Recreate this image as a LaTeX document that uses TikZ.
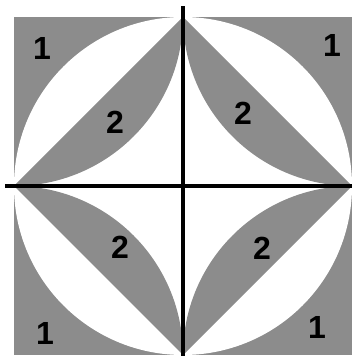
\documentclass[tikz,border=0pt]{standalone}
\usepackage{fontspec}
\setmainfont{Liberation Sans}
\begin{document}
\begin{tikzpicture}[x=1pt,y=1pt,
  shade/.style={fill=black!45},
  lbl/.style={font=\fontsize{32}{34}\selectfont\bfseries, text=black, inner sep=0pt},
  axis/.style={line width=3.2pt, black}]
\useasboundingbox (0,0) rectangle (353,358);
\def\cx{183}\def\cy{172}\def\a{169}
% square and circle
\fill[shade] (\cx-\a,\cy-\a) rectangle (\cx+\a,\cy+\a);
\fill[white] (\cx,\cy) circle (\a);
% lenses
\fill[shade] (\cx-\a,\cy) -- (\cx,\cy+\a) arc[start angle=0,end angle=-90,radius=\a] -- cycle;
\fill[shade] (\cx+\a,\cy) -- (\cx,\cy+\a) arc[start angle=180,end angle=270,radius=\a] -- cycle;
\fill[shade] (\cx-\a,\cy) -- (\cx,\cy-\a) arc[start angle=0,end angle=90,radius=\a] -- cycle;
\fill[shade] (\cx+\a,\cy) -- (\cx,\cy-\a) arc[start angle=180,end angle=90,radius=\a] -- cycle;
% axes
\coordinate (xl) at (5,\cy);
\coordinate (xr) at (352,\cy);
\coordinate (yb) at (\cx,2);
\coordinate (yt) at (\cx,352);
\draw[axis] (xl) -- (xr);
\draw[axis] (yb) -- (yt);
% labels
\node[lbl] (c1) at (42,310) {1};
\node[lbl] (c2) at (332,313) {1};
\node[lbl] (c3) at (45,25) {1};
\node[lbl] (c4) at (317,31) {1};
\node[lbl] (l1) at (115,236) {2};
\node[lbl] (l2) at (243,245) {2};
\node[lbl] (l3) at (120,111) {2};
\node[lbl] (l4) at (262,110) {2};
\end{tikzpicture}
\end{document}
